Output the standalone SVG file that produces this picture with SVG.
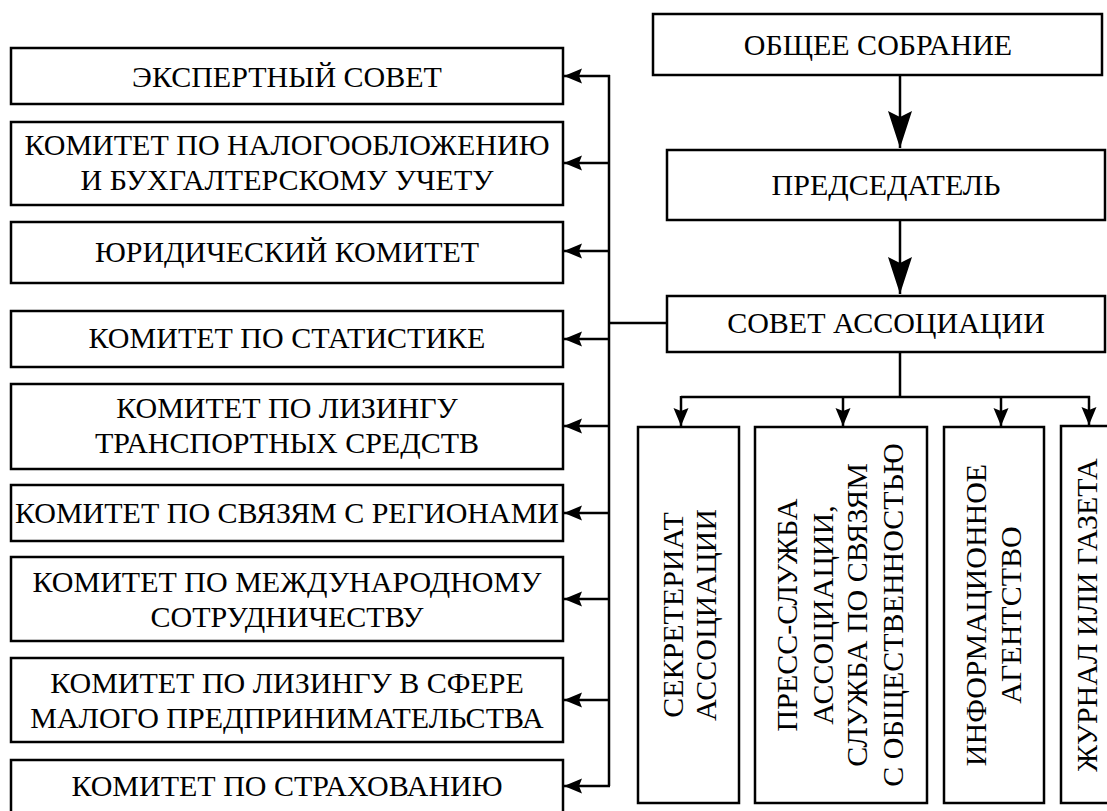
<svg xmlns="http://www.w3.org/2000/svg" width="1107" height="811" viewBox="0 0 1107 811">
<style>
.box{fill:#fff;stroke:#000;stroke-width:2.5}
.t{font-family:Liberation Serif,Tinos,Times New Roman,Times,Nimbus Roman,FreeSerif,Noto Serif,DejaVu Serif,serif;font-size:30px;fill:#000;text-anchor:middle}
.ln{fill:none;stroke:#000;stroke-width:2.5}
</style>
<defs>
<marker id="sm" markerUnits="userSpaceOnUse" markerWidth="18" markerHeight="16" refX="18" refY="8" orient="auto"><path d="M0,0.5 L18,8 L0,15.5 L3,8 Z" fill="#000"/></marker>
<marker id="big" markerUnits="userSpaceOnUse" markerWidth="38" markerHeight="26" refX="37" refY="13" orient="auto"><path d="M0,1 L37,13 L0,25 L6,13 Z" fill="#000"/></marker>
</defs>
<rect width="1107" height="811" fill="#fff"/>
<g id="connectors">
<path class="ln" d="M900,75 V148" marker-end="url(#big)"/>
<path class="ln" d="M900,220 V294" marker-end="url(#big)"/>
<path class="ln" d="M900,352 V397 M681,397 H1090"/>
<path class="ln" d="M681,396 V426" marker-end="url(#sm)"/>
<path class="ln" d="M843,396 V426" marker-end="url(#sm)"/>
<path class="ln" d="M1001,396 V426" marker-end="url(#sm)"/>
<path class="ln" d="M1089,396 V425" marker-end="url(#sm)"/>
<path class="ln" d="M667,323 H609 M609,75 V786"/>
<path class="ln" d="M610,76 H564" marker-end="url(#sm)"/>
<path class="ln" d="M610,163 H564" marker-end="url(#sm)"/>
<path class="ln" d="M610,251 H564" marker-end="url(#sm)"/>
<path class="ln" d="M610,339 H564" marker-end="url(#sm)"/>
<path class="ln" d="M610,426 H564" marker-end="url(#sm)"/>
<path class="ln" d="M610,513 H564" marker-end="url(#sm)"/>
<path class="ln" d="M610,599 H564" marker-end="url(#sm)"/>
<path class="ln" d="M610,700 H564" marker-end="url(#sm)"/>
<path class="ln" d="M610,786 H564" marker-end="url(#sm)"/>
</g>
<g id="n_obshee"><rect class="box" x="653" y="14" width="449" height="61"/><text class="t" x="878" y="55">ОБЩЕЕ СОБРАНИЕ</text></g>
<g id="n_pred"><rect class="box" x="667" y="150" width="438" height="70"/><text class="t" x="886" y="195">ПРЕДСЕДАТЕЛЬ</text></g>
<g id="n_sovet"><rect class="box" x="667" y="296" width="438" height="56"/><text class="t" x="886" y="333">СОВЕТ АССОЦИАЦИИ</text></g>
<g id="n_expert"><rect class="box" x="11" y="48" width="552" height="56"/><text class="t" x="287" y="87">ЭКСПЕРТНЫЙ СОВЕТ</text></g>
<g id="n_nalog"><rect class="box" x="11" y="122" width="552" height="83"/><text class="t" x="287" y="155">КОМИТЕТ ПО НАЛОГООБЛОЖЕНИЮ</text><text class="t" x="287" y="190">И БУХГАЛТЕРСКОМУ УЧЕТУ</text></g>
<g id="n_yur"><rect class="box" x="11" y="222" width="552" height="61"/><text class="t" x="287" y="262">ЮРИДИЧЕСКИЙ КОМИТЕТ</text></g>
<g id="n_stat"><rect class="box" x="11" y="311" width="552" height="56"/><text class="t" x="287" y="348">КОМИТЕТ ПО СТАТИСТИКЕ</text></g>
<g id="n_lizing_tr"><rect class="box" x="11" y="384" width="552" height="85"/><text class="t" x="287" y="418">КОМИТЕТ ПО ЛИЗИНГУ</text><text class="t" x="287" y="453">ТРАНСПОРТНЫХ СРЕДСТВ</text></g>
<g id="n_region"><rect class="box" x="11" y="485" width="552" height="56"/><text class="t" x="287" y="523">КОМИТЕТ ПО СВЯЗЯМ С РЕГИОНАМИ</text></g>
<g id="n_mezhd"><rect class="box" x="11" y="557" width="552" height="84"/><text class="t" x="287" y="592">КОМИТЕТ ПО МЕЖДУНАРОДНОМУ</text><text class="t" x="287" y="627">СОТРУДНИЧЕСТВУ</text></g>
<g id="n_maloe"><rect class="box" x="11" y="658" width="552" height="84"/><text class="t" x="287" y="693">КОМИТЕТ ПО ЛИЗИНГУ В СФЕРЕ</text><text class="t" x="287" y="728">МАЛОГО ПРЕДПРИНИМАТЕЛЬСТВА</text></g>
<g id="n_strah"><rect class="box" x="11" y="760" width="552" height="60"/><text class="t" x="287" y="796">КОМИТЕТ ПО СТРАХОВАНИЮ</text></g>
<g id="n_sekr"><rect class="box" x="638" y="427" width="101" height="376"/><text class="t" transform="translate(683,615) rotate(-90)">СЕКРЕТЕРИАТ</text><text class="t" transform="translate(716,615) rotate(-90)">АССОЦИАЦИИ</text></g>
<g id="n_press"><rect class="box" x="755" y="427" width="172" height="376"/><text class="t" transform="translate(797,615) rotate(-90)">ПРЕСС-СЛУЖБА</text><text class="t" transform="translate(833,615) rotate(-90)">АССОЦИАЦИИ,</text><text class="t" transform="translate(867,615) rotate(-90)">СЛУЖБА ПО СВЯЗЯМ</text><text class="t" transform="translate(903,615) rotate(-90)">С ОБЩЕСТВЕННОСТЬЮ</text></g>
<g id="n_inform"><rect class="box" x="944" y="427" width="100" height="376"/><text class="t" transform="translate(986,615) rotate(-90)">ИНФОРМАЦИОННОЕ</text><text class="t" transform="translate(1021,615) rotate(-90)">АГЕНТСТВО</text></g>
<g id="n_zhurn"><rect class="box" x="1061" y="426" width="60" height="377"/><text class="t" transform="translate(1097,615) rotate(-90)">ЖУРНАЛ ИЛИ ГАЗЕТА</text></g>
</svg>
